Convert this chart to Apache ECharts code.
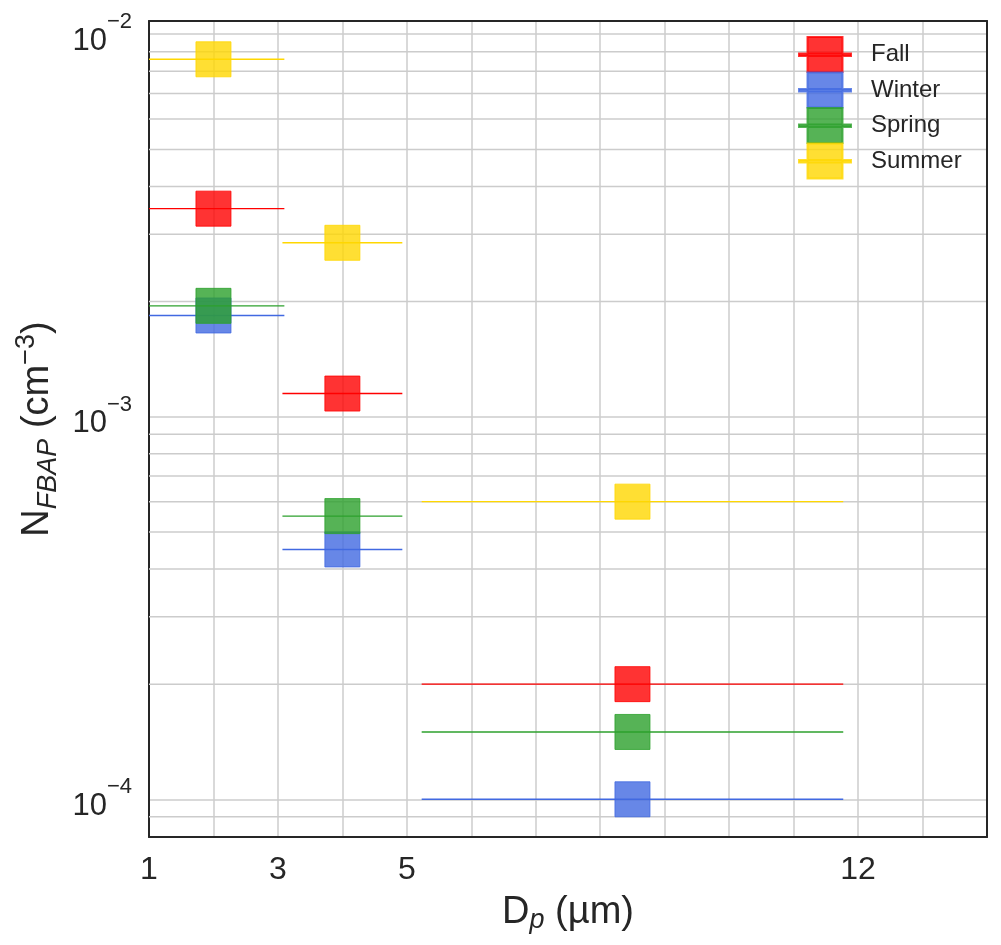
<!DOCTYPE html>
<html><head><meta charset="utf-8">
<script src="https://cdn.jsdelivr.net/npm/echarts@6/dist/echarts.min.js"></script>
<style>html,body{margin:0;padding:0;background:#fff}#c{width:1001px;height:945px}</style>
</head><body><div id="c"></div>
<script>
// ---- data ----
const seasons = ['Fall', 'Winter', 'Spring', 'Summer'];
const seasonColors = ['#ff0000', '#4169e1', '#2ca02c', '#ffd700'];
const seasonFill = ['rgba(255,0,0,0.8)', 'rgba(65,105,225,0.8)', 'rgba(44,160,44,0.8)', 'rgba(255,215,0,0.8)'];
const binCenter = [2, 4, 8.5];
const binLow = [0.9, 3.07, 5.23];
const binHigh = [3.1, 4.93, 11.77];
const fall = [3.5e-3, 1.15e-3, 2.0e-4];
const winter = [1.84e-3, 4.5e-4, 1.0e-4];
const spring = [1.95e-3, 5.5e-4, 1.5e-4];
const summer = [8.6e-3, 2.85e-3, 6.0e-4];
const seasonValues = [fall, winter, spring, summer];
const xTickLabels = [1, 3, 5, 12];
const yDecades = [-5, -4, -3, -2];
const minorMultipliers = [2, 3, 4, 5, 6, 7, 8, 9];
const xMin = 1, xMax = 14;
const yMin = 7.97e-5, yMax = 1.083e-2;

const FONT = '"Liberation Sans", Arial, sans-serif';
const TXT = '#262626';
const GRID = '#cccccc';

// minor gridline values (log minor ticks)
const minorLines = [];
yDecades.forEach(k => minorMultipliers.forEach(m => {
  const v = m * Math.pow(10, k);
  if (v > yMin * 1.03 && v < yMax) minorLines.push([xMin, v]);
}));

const iconPath = 'path://M8.5,0h35v35h-35z M0,16.5h52v2.5h-52z';

const series = [];
seasons.forEach((s, i) => {
  series.push({
    type: 'scatter', name: s, symbol: 'rect', symbolSize: 35,
    z: 4 + 2 * i,
    data: binCenter.map((x, j) => [x, seasonValues[i][j]]),
    itemStyle: { color: seasonFill[i], borderColor: seasonFill[i], borderWidth: 1, opacity: 1 },
    emphasis: { disabled: true }, silent: true
  });
});
seasons.forEach((s, i) => {
  series.push({
    type: 'custom', name: s, z: 3 + 2 * i, clip: true,
    itemStyle: { color: seasonColors[i] },
    data: seasonValues[i].map((v, j) => [binLow[j], binHigh[j], v]),
    encode: { x: [0, 1], y: 2 },
    renderItem: (params, api) => {
      const cs = params.coordSys;
      const p1 = api.coord([api.value(0), api.value(2)]);
      const p2 = api.coord([api.value(1), api.value(2)]);
      const x1 = Math.max(p1[0], cs.x), x2 = Math.min(p2[0], cs.x + cs.width);
      return { type: 'line', shape: { x1: x1, y1: p1[1], x2: x2, y2: p2[1] },
        style: { stroke: seasonColors[i], lineWidth: 1.4 } };
    },
    silent: true
  });
});
// minor horizontal gridlines
series.push({
  type: 'custom', name: 'minor', z: 1, silent: true,
  data: minorLines, encode: { x: 0, y: 1 },
  renderItem: (params, api) => {
    const cs = params.coordSys;
    const p = api.coord([api.value(0), api.value(1)]);
    return { type: 'line', shape: { x1: cs.x, y1: p[1], x2: cs.x + cs.width, y2: p[1] },
      style: { stroke: GRID, lineWidth: 1.5 } };
  }
});

const chart = echarts.init(document.getElementById('c'), null, { renderer: 'canvas' });
chart.setOption({
  animation: false,
  backgroundColor: '#ffffff',
  textStyle: { fontFamily: FONT },
  grid: { left: 149, right: 14, top: 21, bottom: 108 },
  legend: {
    orient: 'vertical', left: 798, top: 36, padding: 0, itemGap: -1.5,
    itemWidth: 52, itemHeight: 35, selectedMode: false,
    data: seasons.map(s => ({ name: s, icon: iconPath })),
    textStyle: { fontSize: 24, color: TXT, fontFamily: FONT, padding: [0, 0, 0, 15] }
  },
  xAxis: [{
    type: 'value', min: xMin, max: xMax, interval: 1, position: 'bottom', z: 0,
    axisLine: { show: true, onZero: false, lineStyle: { color: TXT, width: 2 } },
    axisTick: { show: false },
    splitLine: { show: true, showMinLine: false, showMaxLine: false, lineStyle: { color: GRID, width: 1.5 } },
    axisLabel: { margin: 17, fontSize: 32, color: TXT, fontFamily: FONT,
      formatter: v => xTickLabels.indexOf(Math.round(v)) >= 0 && Math.abs(v - Math.round(v)) < 1e-9 ? String(Math.round(v)) : '' },
    name: '{n|D}{sub|p}{n| (µm)}', nameLocation: 'middle', nameGap: 47,
    nameTextStyle: { rich: {
      n: { fontSize: 38, lineHeight: 44, color: TXT, fontFamily: FONT },
      sub: { fontSize: 27, lineHeight: 30, fontStyle: 'italic', padding: [16, 0, 0, 0], color: TXT, fontFamily: FONT }
    } }
  }, {
    type: 'value', min: xMin, max: xMax, position: 'top', z: 6,
    axisLine: { show: true, onZero: false, lineStyle: { color: TXT, width: 2 } },
    axisTick: { show: false }, axisLabel: { show: false }, splitLine: { show: false }
  }],
  yAxis: [{
    type: 'log', logBase: 10, min: yMin, max: yMax, position: 'left', z: 0,
    axisLine: { show: true, onZero: false, lineStyle: { color: TXT, width: 2 } },
    axisTick: { show: false },
    splitLine: { show: true, showMinLine: false, showMaxLine: false, lineStyle: { color: GRID, width: 1.5 } },
    axisLabel: {
      margin: 17, color: TXT, fontFamily: FONT,
      formatter: v => {
        const e = Math.round(Math.log10(v));
        if (yDecades.indexOf(e) < 0) return '';
        if (Math.abs(v / Math.pow(10, e) - 1) > 1e-6) return '';
        return '{b|10}{sup|' + (e < 0 ? '\u2212' : '') + Math.abs(e) + '}';
      },
      rich: {
        b: { fontSize: 31, lineHeight: 36, padding: [14, 0, 0, 0], color: TXT, fontFamily: FONT },
        sup: { fontSize: 22, lineHeight: 20, padding: [0, 0, 24, 0], color: TXT, fontFamily: FONT }
      }
    },
    name: '{n|N}{sub|FBAP}{n| (cm}{sup|\u22123}{n|)}', nameLocation: 'middle', nameGap: 86, nameRotate: 90,
    nameTextStyle: { rich: {
      n: { fontSize: 38, lineHeight: 46, color: TXT, fontFamily: FONT },
      sub: { fontSize: 27, lineHeight: 32, fontStyle: 'italic', padding: [22, 0, 0, 0], color: TXT, fontFamily: FONT },
      sup: { fontSize: 27, lineHeight: 32, padding: [0, 0, 21, 0], color: TXT, fontFamily: FONT }
    } }
  }, {
    type: 'log', logBase: 10, min: yMin, max: yMax, position: 'right', z: 6,
    axisLine: { show: true, onZero: false, lineStyle: { color: TXT, width: 2 } },
    axisTick: { show: false }, axisLabel: { show: false }, splitLine: { show: false }
  }],
  series: series
});
</script>
</body></html>
